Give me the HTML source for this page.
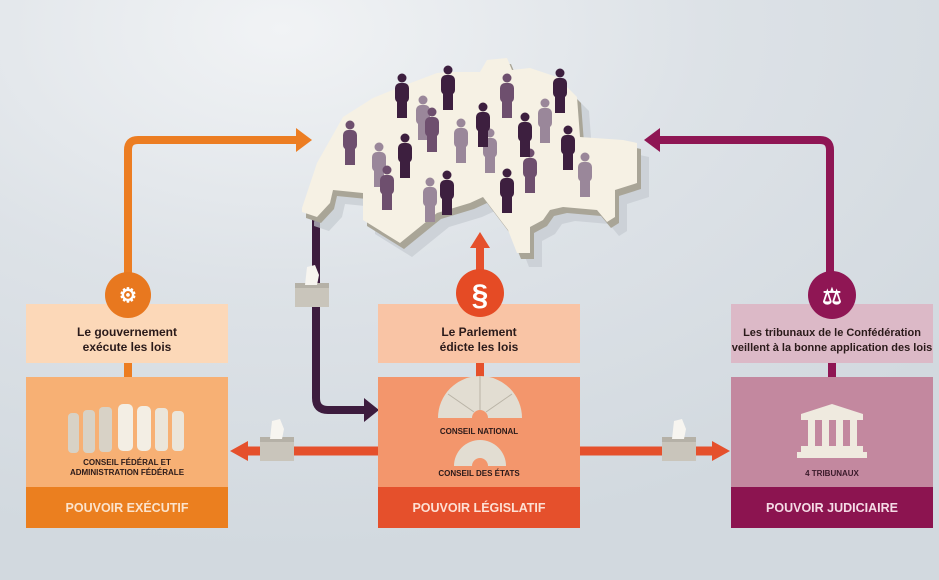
<!DOCTYPE html>
<html><head><meta charset="utf-8"><style>
html,body{margin:0;padding:0;width:939px;height:580px;overflow:hidden;}
svg{display:block}
text{font-family:"Liberation Sans",Arial,sans-serif;font-weight:bold;}
</style></head><body>
<svg width="939" height="580" viewBox="0 0 939 580" xmlns="http://www.w3.org/2000/svg">
<defs>
<radialGradient id="bg" cx="0.3" cy="0.05" r="0.9">
<stop offset="0" stop-color="#f1f3f5"/><stop offset="0.5" stop-color="#dde2e7"/><stop offset="1" stop-color="#d2d9df"/>
</radialGradient>
<g id="p"><circle cx="0" cy="0" r="4.5"/><rect x="-7" y="5" width="14" height="20" rx="5"/><rect x="-5" y="18" width="10" height="22"/></g>
<g id="box"><rect x="0" y="0" width="34" height="24" fill="#c9c5bb"/><rect x="0" y="0" width="34" height="5" fill="#b5b1a7"/><path d="M10 2 L12 -16 L20 -18 L24 -8 L22 2Z" fill="#f7f5f0"/></g>
</defs>
<rect width="939" height="580" fill="url(#bg)"/>

<path d="M128 275 V150 Q128 140 138 140 H298" fill="none" stroke="#ec7d22" stroke-width="8"/>
<path d="M296 128 L312 140 L296 152Z" fill="#ec7d22"/>
<path d="M830 275 V150 Q830 140 820 140 H660" fill="none" stroke="#8f1654" stroke-width="8"/>
<path d="M660 128 L644 140 L660 152Z" fill="#8f1654"/>
<path d="M316 215 V398 Q316 410 328 410 H366" fill="none" stroke="#3d1c3e" stroke-width="8"/>
<path d="M364 398 L379 410 L364 422Z" fill="#3d1c3e"/>
<path d="M480 270 V245" stroke="#e5502c" stroke-width="8"/>
<path d="M470 248 L480 232 L490 248Z" fill="#e5502c"/>
<path d="M378 451 H245" stroke="#e5502c" stroke-width="9"/>
<path d="M248 441 L230 451 L248 461Z" fill="#e5502c"/>
<path d="M580 451 H715" stroke="#e5502c" stroke-width="9"/>
<path d="M712 441 L730 451 L712 461Z" fill="#e5502c"/>
<rect x="124" y="363" width="8" height="14" fill="#ec7d22"/>
<rect x="476" y="363" width="8" height="14" fill="#e5502c"/>
<rect x="828" y="363" width="8" height="14" fill="#8f1654"/>

<use href="#box" x="295" y="283"/>
<use href="#box" x="260" y="437"/>
<use href="#box" x="662" y="437"/>

<polygon transform="translate(12,14)" fill="#c4cad0" opacity="0.7" points="302,208 317,163 343,117 373,98 400,87 437,73 450,72 480,72 487,60 507,58 512,70 530,68 557,77 577,97 580,137 623,140 637,143 637,183 615,190 615,217 607,222 597,210 563,207 550,210 543,220 530,227 530,253 517,253 508,230 483,197 470,203 437,213 400,243 363,220 363,193 333,190 330,203 317,217 302,212"/>
<polygon transform="translate(4,6)" fill="#a9a597" points="302,208 317,163 343,117 373,98 400,87 437,73 450,72 480,72 487,60 507,58 512,70 530,68 557,77 577,97 580,137 623,140 637,143 637,183 615,190 615,217 607,222 597,210 563,207 550,210 543,220 530,227 530,253 517,253 508,230 483,197 470,203 437,213 400,243 363,220 363,193 333,190 330,203 317,217 302,212"/>
<polygon fill="#f6f1e4" points="302,208 317,163 343,117 373,98 400,87 437,73 450,72 480,72 487,60 507,58 512,70 530,68 557,77 577,97 580,137 623,140 637,143 637,183 615,190 615,217 607,222 597,210 563,207 550,210 543,220 530,227 530,253 517,253 508,230 483,197 470,203 437,213 400,243 363,220 363,193 333,190 330,203 317,217 302,212"/>
<g fill="#9a879a">
<use href="#p" x="423" y="100"/><use href="#p" x="545" y="103"/><use href="#p" x="461" y="123"/><use href="#p" x="379" y="147"/><use href="#p" x="490" y="133"/><use href="#p" x="585" y="157"/><use href="#p" x="430" y="182"/>
</g>
<g fill="#6e4f6e">
<use href="#p" x="507" y="78"/><use href="#p" x="432" y="112"/><use href="#p" x="350" y="125"/><use href="#p" x="530" y="153"/><use href="#p" x="387" y="170"/>
</g>
<g fill="#3d1f3f">
<use href="#p" x="402" y="78"/><use href="#p" x="448" y="70"/><use href="#p" x="560" y="73"/><use href="#p" x="483" y="107"/><use href="#p" x="525" y="117"/><use href="#p" x="405" y="138"/><use href="#p" x="568" y="130"/><use href="#p" x="447" y="175"/><use href="#p" x="507" y="173"/>
</g>

<rect x="26" y="304" width="202" height="59" fill="#fcd8b8"/>
<text x="127" y="336" font-size="12" text-anchor="middle" fill="#2a1a1a">Le gouvernement</text>
<text x="127" y="351" font-size="12" text-anchor="middle" fill="#2a1a1a">exécute les lois</text>
<rect x="26" y="377" width="202" height="110" fill="#f7b074"/>
<g fill="#d8d2c6">
<rect x="68" y="413" width="11" height="40" rx="4"/><rect x="83" y="410" width="12" height="43" rx="4"/><rect x="99" y="407" width="13" height="45" rx="4"/><rect x="118" y="404" width="15" height="47" rx="5" fill="#f3eee4"/><rect x="137" y="406" width="14" height="45" rx="5" fill="#f3eee4"/><rect x="155" y="408" width="13" height="43" rx="4" fill="#ebe5da"/><rect x="172" y="411" width="12" height="40" rx="4" fill="#ebe5da"/>
</g>
<text x="127" y="465" font-size="8" text-anchor="middle" fill="#2a1a1a">CONSEIL FÉDÉRAL ET</text>
<text x="127" y="475" font-size="8" text-anchor="middle" fill="#2a1a1a">ADMINISTRATION FÉDÉRALE</text>
<rect x="26" y="487" width="202" height="41" fill="#eb7f1f"/>
<text x="127" y="512" font-size="12.5" text-anchor="middle" fill="#fbe3cc">POUVOIR EXÉCUTIF</text>
<circle cx="128" cy="295" r="23" fill="#e8781f"/>
<text x="128" y="302" font-size="20" text-anchor="middle" fill="#fff">⚙</text>

<rect x="378" y="304" width="202" height="59" fill="#f9c4a5"/>
<text x="479" y="336" font-size="12" text-anchor="middle" fill="#2a1a1a">Le Parlement</text>
<text x="479" y="351" font-size="12" text-anchor="middle" fill="#2a1a1a">édicte les lois</text>
<rect x="378" y="377" width="202" height="110" fill="#f3966c"/>
<path d="M438 418 A42 42 0 0 1 522 418 H488 A8 8 0 0 0 472 418Z" fill="#e2ddd2"/>
<g stroke="#b9b3a6" stroke-width="1"><line x1="480" y1="410" x2="480" y2="376"/><line x1="474" y1="412" x2="448" y2="394"/><line x1="486" y1="412" x2="512" y2="394"/></g>
<path d="M454 466 A26 26 0 0 1 506 466 H488 A8 8 0 0 0 472 466Z" fill="#e2ddd2"/>
<text x="479" y="434" font-size="8" text-anchor="middle" fill="#2a1a1a">CONSEIL NATIONAL</text>
<text x="479" y="476" font-size="8" text-anchor="middle" fill="#2a1a1a">CONSEIL DES ÉTATS</text>
<rect x="378" y="487" width="202" height="41" fill="#e5502c"/>
<text x="479" y="512" font-size="12.5" text-anchor="middle" fill="#fde0d4">POUVOIR LÉGISLATIF</text>
<circle cx="480" cy="293" r="24" fill="#e54b25"/>
<text x="480" y="305" font-size="30" text-anchor="middle" fill="#fff">§</text>

<rect x="731" y="304" width="202" height="59" fill="#dcb9c7"/>
<text x="832" y="336" font-size="11" text-anchor="middle" fill="#2a1a1a">Les tribunaux de le Confédération</text>
<text x="832" y="351" font-size="11" text-anchor="middle" fill="#2a1a1a">veillent à la bonne application des lois</text>
<rect x="731" y="377" width="202" height="110" fill="#c3889f"/>
<path d="M801 414 L832 404 L863 414 V420 H801Z" fill="#efeadf"/>
<g fill="#efeadf"><rect x="808" y="420" width="7" height="26"/><rect x="822" y="420" width="7" height="26"/><rect x="836" y="420" width="7" height="26"/><rect x="850" y="420" width="7" height="26"/>
<rect x="801" y="446" width="62" height="6"/><rect x="797" y="452" width="70" height="6"/></g>
<text x="832" y="476" font-size="8" text-anchor="middle" fill="#3a1a2a">4 TRIBUNAUX</text>
<rect x="731" y="487" width="202" height="41" fill="#8c1450"/>
<text x="832" y="512" font-size="12.5" text-anchor="middle" fill="#f5dbe6">POUVOIR JUDICIAIRE</text>
<circle cx="832" cy="295" r="24" fill="#8f1654"/>
<text x="832" y="304" font-size="22" text-anchor="middle" fill="#fff">⚖</text>
</svg>
</body></html>
